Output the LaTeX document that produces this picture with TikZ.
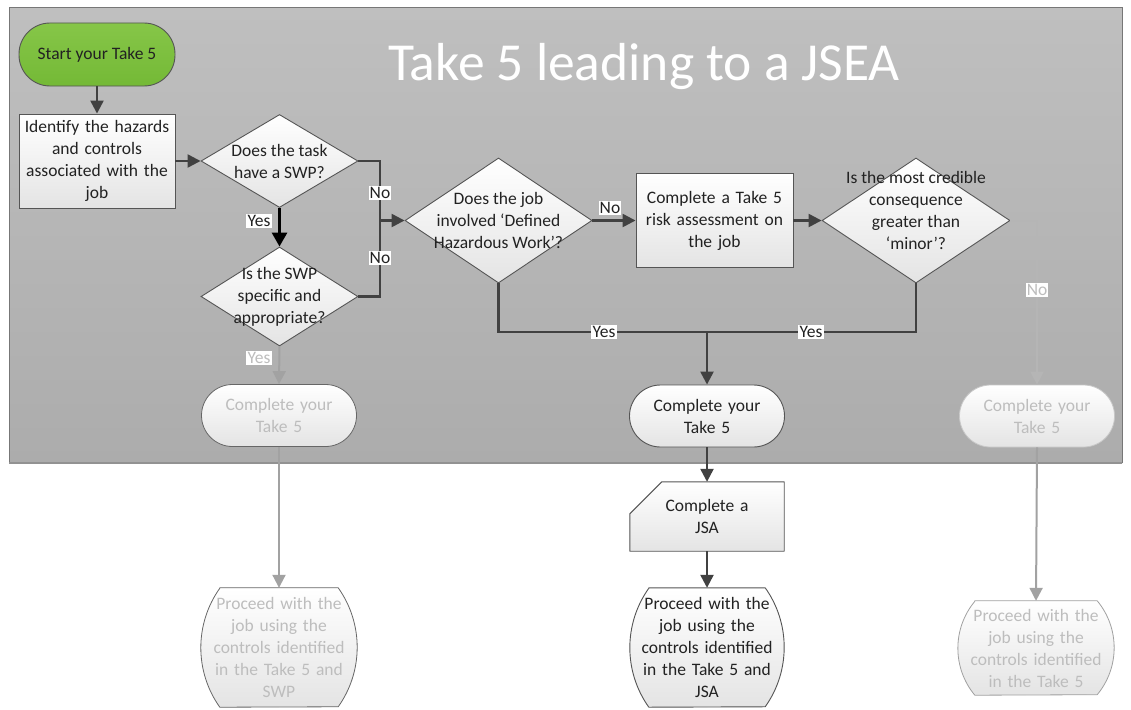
\documentclass[tikz,border=0pt]{standalone}
\usepackage{fontspec}
\setmainfont{Carlito}
\usetikzlibrary{shapes.geometric,arrows.meta}
\definecolor{panelT}{HTML}{BFBFBF}
\definecolor{panelB}{HTML}{ACACAC}
\definecolor{panelLine}{HTML}{777777}
\definecolor{bord}{HTML}{555555}
\definecolor{fillB}{HTML}{E4E4E4}
\definecolor{green1}{HTML}{86C648}
\definecolor{green2}{HTML}{74B936}
\definecolor{lineD}{HTML}{414141}
\definecolor{lineF}{HTML}{A2A2A2}
\definecolor{txtdark}{HTML}{222222}
\definecolor{fadetxt}{HTML}{BDBDBD}
\definecolor{bordF}{HTML}{666666}
\definecolor{bordL}{HTML}{C8C8C8}
\pgfdeclarelayer{bg}
\pgfsetlayers{bg,main}
\tikzset{
  base/.style={font=\fontsize{17.5pt}{22pt}\selectfont, text=txtdark, align=center, inner sep=0pt},
  boxS/.style={base, draw=bord, line width=0.9pt, top color=white, bottom color=fillB},
  stad/.style={boxS, rounded corners=31pt, minimum width=155pt, minimum height=62pt, text width=150pt},
  fstad/.style={stad, draw=bordF, text=fadetxt, line width=0.8pt},
  dia/.style={shape=diamond, draw=bord, line width=0.9pt, top color=white, bottom color=fillB, inner sep=0pt},
  ptxt/.style={base, text width=150pt},
  shp/.style={draw=bord, line width=0.9pt, top color=white, bottom color=fillB, line join=round},
  line/.style={draw=lineD, line width=2.4pt},
  conn/.style={line, -{Triangle[length=13pt,width=13pt]}},
  connB/.style={draw=black, line width=3pt, -{Triangle[length=14pt,width=15pt]}},
  fline/.style={draw=lineF, line width=2pt},
  fconn/.style={fline, -{Triangle[length=13pt,width=13pt]}},
  lbl/.style={base, fill=white, inner sep=1.2pt},
  flbl/.style={lbl, text=fadetxt},
}
\begin{document}
\begin{tikzpicture}[x=1pt,y=-1pt]
\useasboundingbox (0,0) rectangle (1131,709);
% panel
\begin{pgfonlayer}{bg}
\shade[top color=panelT, bottom color=panelB] (9,8) rectangle (1122,463);
\draw[panelLine, line width=1pt] (9,463) -- (9,8) -- (1122,8) -- (1122,463);
\draw[panelLine!80, line width=2.5pt] (9,463) -- (1122,463);
\end{pgfonlayer}
\node[font=\fontsize{53.5pt}{60pt}\selectfont, text=white, inner sep=0pt] (title) at (644,67) {Take 5 leading to a JSEA};

% nodes
\node[base, draw=bord, line width=0.9pt, top color=green1, bottom color=green2, rounded corners=31pt,
      minimum width=156pt, minimum height=63pt] (start) at (97,54.5) {Start your Take 5};
\node[boxS, minimum width=156pt, minimum height=94pt, text width=150pt] (ident) at (97,161)
  {Identify the hazards\\and controls\\associated with the\\job};
\node[dia, minimum width=157pt, minimum height=93pt] (d1) at (279.5,161) {};
\node[base] (d1t) at (279.5,161) {Does the task\\have a SWP?};
\node[dia, minimum width=157pt, minimum height=99pt] (d2) at (279.5,296.5) {};
\node[base] (d2t) at (279.5,296.5) {Is the SWP\\specific and\\appropriate?};
\node[dia, minimum width=187pt, minimum height=125pt] (d3) at (498.5,220.5) {};
\node[base] (d3t) at (498.5,220.5) {Does the job\\involved ‘Defined\\Hazardous Work’?};
\node[boxS, minimum width=157pt, minimum height=94pt, text width=150pt] (box4) at (714.5,220.5)
  {Complete a Take 5\\risk assessment on\\the job};
\node[dia, minimum width=188pt, minimum height=125pt] (d5) at (916,220.5) {};
\node[base] (d5t) at (916,210) {Is the most credible\\consequence\\greater than\\‘minor’?};

\node[fstad] (lc) at (279,415.5) {Complete your\\Take 5};
\node[stad] (mid) at (707,416) {Complete your\\Take 5};
\node[fstad, draw=bordL] (rc) at (1037,416) {Complete your\\Take 5};

% JSA card
\node[ptxt, minimum width=154pt, minimum height=69pt] (jsa) at (707,516.5) {Complete a\\JSA};
\begin{pgfonlayer}{bg}
\path[shp] ([xshift=32pt]jsa.north west) -- (jsa.north east) -- (jsa.south east)
  -- (jsa.south west) -- ([yshift=-32pt]jsa.north west) -- cycle;
\end{pgfonlayer}

% proceed shapes
\node[ptxt, minimum width=156pt, minimum height=119pt, text=fadetxt] (pl) at (279,647.5)
  {Proceed with the\\job using the\\controls identified\\in the Take 5 and\\SWP};
\node[ptxt, minimum width=154pt, minimum height=119pt] (pm) at (707,647.5)
  {Proceed with the\\job using the\\controls identified\\in the Take 5 and\\JSA};
\node[ptxt, minimum width=156pt, minimum height=94pt, text=fadetxt] (pr) at (1036,648)
  {Proceed with the\\job using the\\controls identified\\in the Take 5};
\begin{pgfonlayer}{bg}
\path[shp, draw=bordF, line width=0.8pt] ([xshift=19pt]pl.north west) -- ([xshift=-19pt]pl.north east)
  arc[start angle=35.4,end angle=-35.4,radius=102.7pt]
  -- ([xshift=19pt]pl.south west) arc[start angle=215.4,end angle=144.6,radius=102.7pt] -- cycle;
\path[shp] ([xshift=19pt]pm.north west) -- ([xshift=-19pt]pm.north east)
  arc[start angle=35.4,end angle=-35.4,radius=102.7pt]
  -- ([xshift=19pt]pm.south west) arc[start angle=215.4,end angle=144.6,radius=102.7pt] -- cycle;
\path[shp, draw=bordL!80!black, line width=0.8pt] ([xshift=17pt]pr.north west) -- ([xshift=-17pt]pr.north east)
  arc[start angle=39.7,end angle=-39.7,radius=73.5pt]
  -- ([xshift=17pt]pr.south west) arc[start angle=219.7,end angle=140.3,radius=73.5pt] -- cycle;
\end{pgfonlayer}

% junctions
\coordinate (jx) at (380,220.5);
\coordinate (jy) at (707,332);

% connectors
\draw[conn] (start) -- (ident);
\draw[conn] (ident) -- (d1);
\draw[connB] (d1.south) -- (d2.north);
\draw[conn] (d1.east) -| (jx) -- (d3.west);
\draw[line] (d2.east) -| (jx);
\draw[conn] (d3.east) -- (box4.west);
\draw[conn] (box4.east) -- (d5.west);
\draw[line] (d3.south) |- (jy);
\draw[line] (d5.south) |- (jy);
\draw[conn] (jy) -- (mid.north);
\draw[conn] (mid.south) -- (jsa.north);
\draw[conn] (jsa.south) -- (pm.north);
\draw[fconn] (d2.south) -- (lc.north);
\draw[fconn] (lc.south) -- (pl.north);
\draw[fconn, draw=lineF!80!white] (d5.east) -| (rc.north);
\draw[fconn] (rc.south) -- (pr.north);

% labels
\node[lbl] (lyes1) at (259,221) {Yes};
\node[lbl] (lno1) at (380,193) {No};
\node[lbl] (lno2) at (380,258) {No};
\node[lbl] (lno3) at (610,208) {No};
\node[lbl] (lyes2) at (604,332) {Yes};
\node[lbl] (lyes3) at (811,332) {Yes};
\node[flbl] (lyes4) at (259,358) {Yes};
\node[flbl] (lno4) at (1037,290) {No};
\end{tikzpicture}
\end{document}
